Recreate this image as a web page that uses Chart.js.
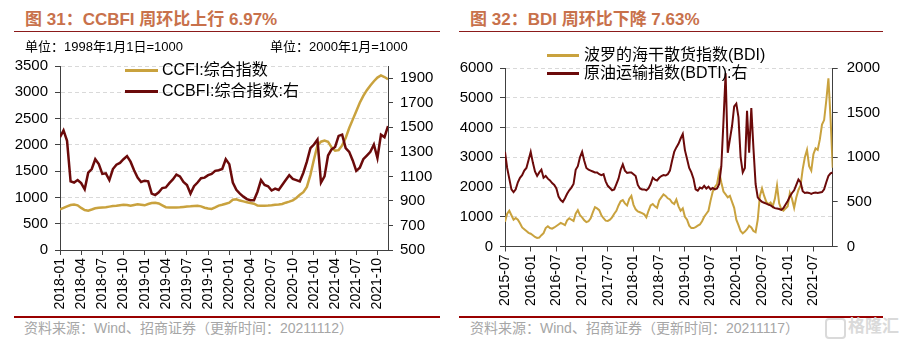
<!DOCTYPE html>
<html><head><meta charset="utf-8">
<script src="https://cdn.jsdelivr.net/npm/chart.js@4"></script>
<style>
body{margin:0;width:899px;height:343px;background:#fff;position:relative;overflow:hidden;font-family:'Liberation Sans','Noto Sans CJK SC',sans-serif;}
.abs{position:absolute;white-space:nowrap;z-index:2;}
.title{font-weight:bold;font-size:17px;line-height:20px;color:#C8714B;top:10px;}
.rule{position:absolute;height:1px;background:#8B1A1A;top:31px;}
.unit{font-size:13px;line-height:16px;color:#000;top:39px;}
.leg{font-size:16px;line-height:20px;color:#000;}
.sw{position:absolute;height:3px;z-index:2;}
.src{font-size:14px;line-height:16px;color:#A6A6A6;top:320px;}
.bot{position:absolute;height:2px;background:#990000;top:316px;}
canvas{position:absolute;z-index:1;}
</style></head>
<body>
<div class="abs title" style="left:25px">图 31：CCBFI 周环比上行 6.97%</div>
<div class="abs title" style="left:470px">图 32：BDI 周环比下降 7.63%</div>
<div class="rule" style="left:14px;width:426px"></div>
<div class="rule" style="left:459px;width:424px"></div>
<div class="abs unit" style="left:25px">单位：1998年1月1日=1000</div>
<div class="abs unit" style="left:270px">单位：2000年1月=1000</div>

<canvas id="c1" width="445" height="265" style="left:0;top:50px"></canvas>
<canvas id="c2" width="445" height="265" style="left:450px;top:50px"></canvas>

<div class="sw" style="left:125px;top:69px;width:33px;background:#C9A23E"></div>
<div class="abs leg" style="left:162px;top:60px">CCFI:综合指数</div>
<div class="sw" style="left:125px;top:90px;width:33px;background:#6B0A0A"></div>
<div class="abs leg" style="left:162px;top:81px">CCBFI:综合指数:右</div>

<div class="sw" style="left:547px;top:54px;width:32px;background:#C9A23E"></div>
<div class="abs leg" style="left:584px;top:45px">波罗的海干散货指数(BDI)</div>
<div class="sw" style="left:547px;top:72px;width:32px;background:#6B0A0A"></div>
<div class="abs leg" style="left:584px;top:63px">原油运输指数(BDTI):右</div>

<div class="bot" style="left:14px;width:426px"></div>
<div class="bot" style="left:459px;width:424px"></div>
<div class="abs src" style="left:24px">资料来源：Wind、招商证券（更新时间：20211112）</div>
<div class="abs src" style="left:470px">资料来源：Wind、招商证券（更新时间：20211117）</div>
<div class="abs" style="left:825px;top:318px;width:17px;height:17px;border:2px solid #DADADA;border-radius:4px;"></div>
<div class="abs" style="left:848px;top:317px;font-size:17px;font-weight:bold;color:#DADADA;line-height:20px">格隆汇</div>

<script>
// ---------- Left chart data (half-month samples from 2018-01) ----------
const leftStart = '2018-01';
const leftStep = 0.5; // months per sample
const ccfi = [
 772, 800, 830, 855, 865, 850, 800, 760, 748, 770,
 795, 805, 810, 815, 825, 835, 840, 850, 860, 855,
 840, 855, 868, 860, 850, 875, 895, 900, 885, 850,
 815, 810, 808, 808, 812, 820, 827, 830, 835, 840,
 830, 805, 790, 780, 810, 845, 860, 880, 900, 955,
 965, 940, 925, 910, 895, 880, 845, 840, 842, 845,
 850, 860, 865, 875, 900, 920, 945, 990, 1050, 1100,
 1200, 1430, 1720, 1990, 2060, 2080, 2060, 1950, 1890, 1900,
 1990, 2130, 2320, 2480, 2640, 2800, 2930, 3040, 3130, 3210,
 3280, 3320, 3290, 3250
];
const ccbfi = [
 1420, 1475, 1390, 1060, 1050, 1070, 1045, 995, 1130, 1160,
 1240, 1200, 1120, 1125, 1070, 1160, 1195, 1210, 1240, 1265,
 1220, 1150, 1090, 1055, 1065, 1060, 960, 948, 970, 1005,
 1010, 1045, 1075, 1115, 1100, 1055, 1030, 960, 1020, 1050,
 1085, 1090, 1110, 1120, 1145, 1150, 1160, 1240, 1200, 1050,
 990, 960, 935, 915, 906, 906, 975, 1070, 1030, 1020,
 985, 1000, 990, 1030, 1070, 1110, 1080, 1070, 1060, 1130,
 1220, 1330, 1360, 1400, 1050, 1100, 1270, 1320, 1340, 1430,
 1440, 1330, 1300, 1230, 1145, 1170, 1240, 1270, 1300, 1360,
 1250, 1440, 1420, 1510
];
const leftXLabels = ['2018-01','2018-04','2018-07','2018-10','2019-01','2019-04','2019-07','2019-10',
  '2020-01','2020-04','2020-07','2020-10','2021-01','2021-04','2021-07','2021-10'];
const leftYTicks = [0,500,1000,1500,2000,2500,3000,3500];
const leftY1Ticks = [500,700,900,1100,1300,1500,1700,1900];

// ---------- Right chart data (half-month samples from 2015-07) ----------
const rightStart = '2015-07';
const rightStep = 0.5;
const bdi = [
 830, 1100, 1200, 1050, 900, 960, 900, 780, 640, 580,
 520, 460, 430, 380, 320, 290, 300, 380, 450, 620,
 680, 620, 600, 640, 690, 740, 790, 760, 720, 880,
 950, 900, 860, 1100, 1220, 1050, 980, 880, 820, 850,
 950, 1150, 1320, 1280, 1220, 1050, 950, 870, 860, 900,
 980, 1100, 1200, 1380, 1520, 1560, 1450, 1380, 1600, 1700,
 1400, 1250, 1180, 1150, 1120, 1080, 980, 1200, 1380, 1430,
 1350, 1300, 1550, 1650, 1750, 1700, 1620, 1580, 1480, 1430,
 1580, 1350, 1200, 1280, 1000, 900, 700, 620, 620, 650,
 700, 740, 850, 1000, 1100, 1200, 1550, 1850, 2000, 2100,
 2500, 2150, 1850, 1750, 1650, 1700, 1500, 1300, 900, 720,
 520, 440, 500, 580, 700, 640, 520, 480, 900, 1700,
 1950, 1700, 1500, 1420, 1480, 1350, 1600, 2050, 1450, 1250,
 1200, 1280, 1350, 1800, 1600, 1300, 1650, 1900, 2050, 2600,
 3000, 3250, 2700, 2550, 3100, 3300, 3250, 3600, 4100, 4250,
 4900, 5650, 4300, 2650
];
const bdti = [
 1060, 880, 760, 640, 610, 640, 720, 770, 800, 850,
 880, 970, 1060, 940, 840, 790, 830, 860, 770, 790,
 760, 740, 710, 690, 650, 560, 520, 500, 540, 590,
 630, 660, 700, 860, 900, 1000, 1060, 960, 880, 860,
 850, 840, 830, 830, 810, 800, 810, 730, 680, 655,
 630, 640, 700, 760, 860, 920, 850, 825, 830, 830,
 810, 790, 690, 650, 640, 640, 630, 650, 700, 770,
 750, 740, 770, 790, 800, 795, 810, 850, 960, 1060,
 1110, 1150, 1210, 1260, 1080, 980, 880, 830, 760, 640,
 625, 660, 650, 680, 650, 670, 640, 655, 640, 650,
 700, 900, 1400, 1940, 1050, 1200, 1350, 1570, 1600, 1450,
 1000, 830, 880, 1520, 1050, 1550, 1100, 700, 550, 520,
 500, 490, 480, 470, 460, 445, 430, 425, 420, 410,
 430, 470, 510, 560, 600, 630, 690, 750, 720, 620,
 600, 605, 600, 590, 600, 605, 600, 605, 610, 640,
 720, 790, 820, 830
];
const rightXLabels = ['2015-07','2016-01','2016-07','2017-01','2017-07','2018-01','2018-07',
  '2019-01','2019-07','2020-01','2020-07','2021-01','2021-07'];
const rightYTicks = [0,1000,2000,3000,4000,5000,6000];
const rightY1Ticks = [0,500,1000,1500,2000];

// ---------- helpers ----------
const GOLD = '#C9A23E', MAROON = '#6B0A0A', AXIS = '#404040';
const FAM = "'Liberation Sans','Noto Sans CJK SC',sans-serif";
function monthsFrom(start, label){
  const [y0,m0] = start.split('-').map(Number);
  const [y1,m1] = label.split('-').map(Number);
  return (y1-y0)*12 + (m1-m0);
}
function pts(values, step){ return values.map((v,i)=>({x:i*step, y:v})); }

function build(canvasId, o){
  const xMax = (o.s1.length-1)*o.step;
  const tickVals = o.xLabels.map(l=>monthsFrom(o.start,l));
  new Chart(document.getElementById(canvasId), {
    type:'line',
    data:{datasets:[
      {label:o.n1, data:pts(o.s1,o.step), yAxisID:'y', borderColor:GOLD, borderWidth:o.lw, pointRadius:0, tension:0, order:2},
      {label:o.n2, data:pts(o.s2,o.step), yAxisID:'y1', borderColor:MAROON, borderWidth:o.lw, pointRadius:0, tension:0, order:1}
    ]},
    options:{
      responsive:false, animation:false, devicePixelRatio:1,
      layout:{padding:{top:o.padTop,left:0,right:0,bottom:0}},
      plugins:{legend:{display:false}, tooltip:{enabled:false}},
      scales:{
        x:{type:'linear', min:0, max:xMax,
          afterBuildTicks:s=>{s.ticks = tickVals.map(v=>({value:v}));},
          afterFit:s=>{s.height=o.xH;},
          grid:{drawOnChartArea:false, drawTicks:true, tickLength:5, tickColor:AXIS},
          border:{color:AXIS, width:1},
          ticks:{autoSkip:false, maxRotation:90, minRotation:90, padding:3, color:'#000',
            font:{family:FAM,size:14},
            callback:(v)=>{const i=tickVals.indexOf(v); return i>=0?o.xLabels[i]:'';}}
        },
        y:{position:'left', min:o.yMin, max:o.yMax,
          afterBuildTicks:s=>{s.ticks = o.yTicks.map(v=>({value:v}));},
          afterFit:s=>{s.width=o.yW;},
          grid:{color:(c)=> (c.tick && c.tick.value===o.yMin) ? 'rgba(0,0,0,0)' : '#D9D9D9', lineWidth:1, tickLength:5, tickColor:AXIS},
          border:{color:AXIS, width:1, dash:[4,3]},
          ticks:{padding:7, color:'#000', font:{family:FAM,size:15}, callback:(v)=>String(v)}
        },
        y1:{position:'right', min:o.y1Min, max:o.y1Max,
          afterBuildTicks:s=>{s.ticks = o.y1Ticks.map(v=>({value:v}));},
          afterFit:s=>{s.width=o.y1W;},
          grid:{drawOnChartArea:false, tickLength:5, tickColor:AXIS},
          border:{color:AXIS, width:1},
          ticks:{padding:o.y1Pad, color:'#000', font:{family:FAM,size:15}, callback:(v)=>String(v)}
        }
      }
    }
  });
}

build('c1', {start:leftStart, step:leftStep, s1:ccfi, s2:ccbfi, n1:'CCFI:综合指数', n2:'CCBFI:综合指数:右',
  xLabels:leftXLabels, yTicks:leftYTicks, y1Ticks:leftY1Ticks, yMin:0, yMax:3500, y1Min:500, y1Max:2000,
  yW:60, y1W:57, xH:65, padTop:8, lw:2.5, y1Pad:7});
build('c2', {start:rightStart, step:rightStep, s1:bdi, s2:bdti, n1:'波罗的海干散货指数(BDI)', n2:'原油运输指数(BDTI):右',
  xLabels:rightXLabels, yTicks:rightYTicks, y1Ticks:rightY1Ticks, yMin:0, yMax:6000, y1Min:0, y1Max:2000,
  yW:55, y1W:62.3, xH:68.5, padTop:8.3, lw:2, y1Pad:9});
</script>
</body></html>
